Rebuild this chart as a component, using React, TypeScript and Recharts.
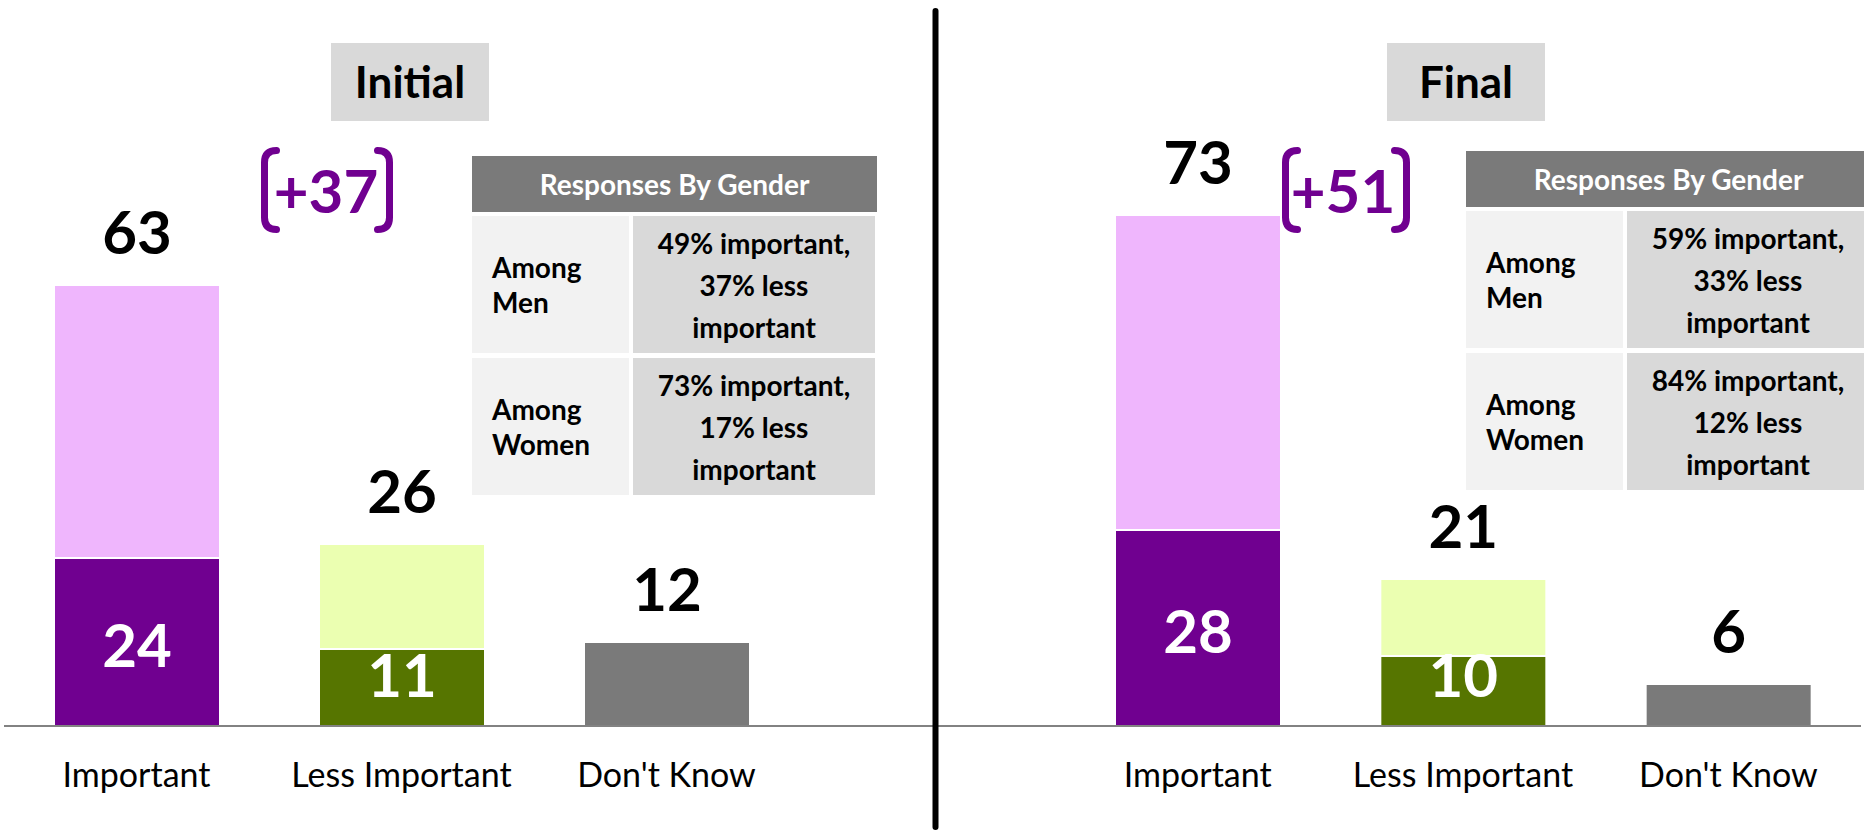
import { BarChart, Bar, XAxis, YAxis, Cell, LabelList } from 'recharts';

const FONT = 'Lato, "Open Sans", sans-serif';

const CATEGORIES = ['Important', 'Less Important', "Don't Know"];

// totals shown above the bars, and the darker bottom segment of each bar
const INITIAL_TOTALS = [63, 26, 12];
const INITIAL_CORE = [24, 11, 12];
const FINAL_TOTALS = [73, 21, 6];
const FINAL_CORE = [28, 10, 6];

const INITIAL_CHANGE = '+37';
const FINAL_CHANGE = '+51';

const INITIAL_MEN = ['49% important,', '37% less', 'important'];
const INITIAL_WOMEN = ['73% important,', '17% less', 'important'];
const FINAL_MEN = ['59% important,', '33% less', 'important'];
const FINAL_WOMEN = ['84% important,', '12% less', 'important'];

const CORE_COLORS = ['#700090', '#567500', '#7a7a7a'];
const REST_COLORS = ['#efb6fd', '#ebffb1', '#7a7a7a'];
const PURPLE = '#700090';

type Row = { name: string; core: number; rest: number; total: number };

const buildRows = (totals: number[], core: number[]): Row[] =>
  CATEGORIES.map((name, i) => ({ name, core: core[i], rest: totals[i] - core[i], total: totals[i] }));

const initialRows = buildRows(INITIAL_TOTALS, INITIAL_CORE);
const finalRows = buildRows(FINAL_TOTALS, FINAL_CORE);

const renderTick = (props: any) => {
  const { x, y, payload } = props;
  return (
    <text x={x} y={Number(y) + 61} textAnchor="middle" fontSize={34} fontFamily={FONT} fill="#000">
      {payload.value}
    </text>
  );
};

// total sits above the whole stack; drawn from the bottom segment's geometry
const makeTotalLabel = (rows: Row[]) => (props: any) => {
  const row = rows[props.index];
  if (!row) return null;
  const x = Number(props.x);
  const y = Number(props.y);
  const w = Number(props.width);
  const h = Number(props.height);
  const perUnit = h / row.core;
  const top = y - row.rest * perUnit;
  return (
    <text x={x + w / 2} y={top - 31} textAnchor="middle" fontSize={60} fontWeight={700} fontFamily={FONT} fill="#000">
      {row.total}
    </text>
  );
};

// value of the dark segment, drawn from the upper segment so it stays on top
const makeCoreLabel = (rows: Row[]) => (props: any) => {
  const row = rows[props.index];
  if (!row || !row.rest) return null;
  const x = Number(props.x);
  const y = Number(props.y);
  const w = Number(props.width);
  const h = Number(props.height);
  const perUnit = h / row.rest;
  const top = y + h;
  const coreH = row.core * perUnit;
  const cy = Math.min(top + coreH / 2 + 3, top + coreH - 51);
  return (
    <text x={x + w / 2} y={cy + 21.5} textAnchor="middle" fontSize={60} fontWeight={700} fontFamily={FONT} fill="#fff">
      {row.core}
    </text>
  );
};

interface PanelProps {
  rows: Row[];
  width: number;
  left: number;
  marginLeft: number;
  marginRight: number;
  padLeft: number;
  padRight: number;
}

function Panel({ rows, width, left, marginLeft, marginRight, padLeft, padRight }: PanelProps) {
  return (
    <div style={{ position: 'absolute', left, top: 0 }}>
      <BarChart
        width={width}
        height={832}
        data={rows}
        barSize={166}
        margin={{ top: 26, right: marginRight, left: marginLeft, bottom: 46 }}
      >
        <YAxis hide type="number" domain={[0, 100]} />
        <XAxis
          dataKey="name"
          height={60}
          interval={0}
          tickLine={false}
          tickSize={0}
          tickMargin={0}
          axisLine={{ stroke: '#595959', strokeWidth: 1.5 }}
          padding={{ left: padLeft, right: padRight }}
          tick={renderTick}
        />
        <Bar dataKey="core" stackId="s" stroke="#fff" strokeWidth={2} isAnimationActive={false}>
          {rows.map((_, i) => (
            <Cell key={`core-${i}`} fill={CORE_COLORS[i]} />
          ))}
          <LabelList dataKey="total" content={makeTotalLabel(rows)} />
        </Bar>
        <Bar dataKey="rest" stackId="s" stroke="#fff" strokeWidth={2} isAnimationActive={false}>
          {rows.map((_, i) => (
            <Cell key={`rest-${i}`} fill={REST_COLORS[i]} />
          ))}
          <LabelList dataKey="core" content={makeCoreLabel(rows)} />
        </Bar>
      </BarChart>
    </div>
  );
}

function GenderTable({ left, top, men, women }: { left: number; top: number; men: string[]; women: string[] }) {
  const cellText = { fontFamily: FONT, fontWeight: 700, fontSize: 28, color: '#000' } as const;
  const row = (group: string[], lines: string[], y: number) => (
    <>
      <div
        style={{
          ...cellText,
          position: 'absolute', left: 0, top: y, width: 157, height: 137, background: '#f2f2f2',
          display: 'flex', flexDirection: 'column', justifyContent: 'center', paddingLeft: 20,
          boxSizing: 'border-box', lineHeight: '35px',
        }}
      >
        {group.map((g) => <div key={g}>{g}</div>)}
      </div>
      <div
        style={{
          ...cellText,
          position: 'absolute', left: 161, top: y, width: 242, height: 137, background: '#d9d9d9',
          display: 'flex', flexDirection: 'column', justifyContent: 'center', alignItems: 'center',
          lineHeight: '42px',
        }}
      >
        {lines.map((l) => <div key={l}>{l}</div>)}
      </div>
    </>
  );
  return (
    <div style={{ position: 'absolute', left, top, width: 405, height: 340 }}>
      <div
        style={{
          position: 'absolute', left: 0, top: 0, width: 405, height: 56, background: '#7a7a7a',
          color: '#fff', fontFamily: FONT, fontWeight: 700, fontSize: 28,
          display: 'flex', alignItems: 'center', justifyContent: 'center',
        }}
      >
        Responses By Gender
      </div>
      {row(['Among', 'Men'], men, 60)}
      {row(['Among', 'Women'], women, 202)}
    </div>
  );
}

function Bracketed({ cx, lx, rx, label }: { cx: number; lx: number; rx: number; label: string }) {
  const top = 150.5;
  const bot = 229.5;
  const hook = 12;
  return (
    <g>
      <path
        d={`M ${lx + hook} ${top} Q ${lx} ${top} ${lx} ${top + 12} L ${lx} ${bot - 12} Q ${lx} ${bot} ${lx + hook} ${bot}`}
        fill="none" stroke={PURPLE} strokeWidth={7} strokeLinecap="round"
      />
      <path
        d={`M ${rx - hook} ${top} Q ${rx} ${top} ${rx} ${top + 12} L ${rx} ${bot - 12} Q ${rx} ${bot} ${rx - hook} ${bot}`}
        fill="none" stroke={PURPLE} strokeWidth={7} strokeLinecap="round"
      />
      <text x={cx} y={213} textAnchor="middle" fontSize={60} fontWeight={700} fontFamily={FONT} fill={PURPLE}>
        {label}
      </text>
    </g>
  );
}

function TitleBox({ x, label }: { x: number; label: string }) {
  return (
    <g>
      <rect x={x} y={43} width={158} height={78} fill="#d9d9d9" />
      <text x={x + 79} y={98} textAnchor="middle" fontSize={44} fontWeight={700} fontFamily={FONT} fill="#000">
        {label}
      </text>
    </g>
  );
}

export default function App() {
  return (
    <div style={{ position: 'relative', width: 1864, height: 832, overflow: 'hidden', background: '#fff' }}>
      <style>{'body{margin:0}'}</style>
      <Panel rows={initialRows} width={935} left={0} marginLeft={4} marginRight={0} padLeft={0} padRight={136} />
      <Panel rows={finalRows} width={929} left={935} marginLeft={0} marginRight={3} padLeft={130} padRight={0} />
      <GenderTable left={472} top={156} men={INITIAL_MEN} women={INITIAL_WOMEN} />
      <GenderTable left={1466} top={151} men={FINAL_MEN} women={FINAL_WOMEN} />
      <svg width={1864} height={832} style={{ position: 'absolute', left: 0, top: 0, pointerEvents: 'none' }}>
        <TitleBox x={331} label="Initial" />
        <TitleBox x={1387} label="Final" />
        <Bracketed cx={326} lx={264.5} rx={389.5} label={INITIAL_CHANGE} />
        <Bracketed cx={1343} lx={1285.5} rx={1406.5} label={FINAL_CHANGE} />
        <line x1={935.5} y1={11} x2={935.5} y2={827} stroke="#000" strokeWidth={6} strokeLinecap="round" />
      </svg>
    </div>
  );
}
